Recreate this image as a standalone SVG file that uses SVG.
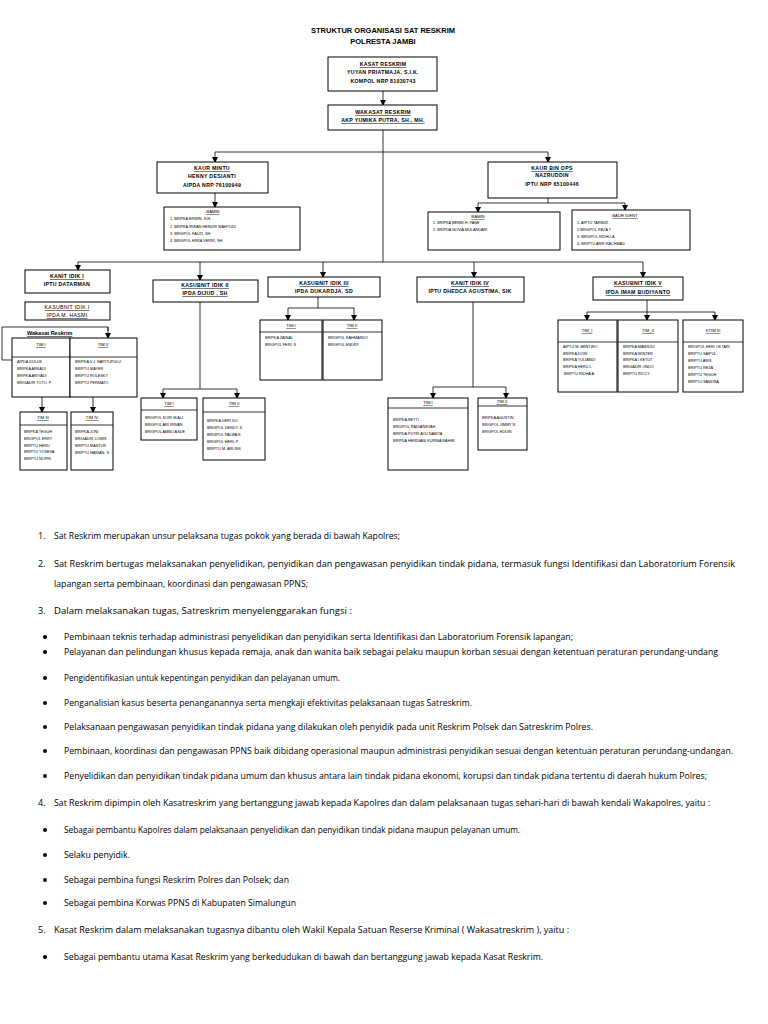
<svg xmlns="http://www.w3.org/2000/svg" width="768" height="1024" viewBox="0 0 768 1024">
<style>
.bx{fill:#fff;stroke:#000;stroke-width:1}
.ln{fill:none;stroke:#000;stroke-width:0.8}
.ar{fill:none;stroke:#000;stroke-width:0.8;marker-end:url(#a)}
.t{font-family:"Liberation Sans",Arial,sans-serif;font-weight:bold;font-size:7.5px;text-anchor:middle}
.h{font-family:"Liberation Sans",Arial,sans-serif;font-weight:bold;font-size:5.2px;text-anchor:middle;letter-spacing:0.3px}
.u{text-decoration:underline}
.s{font-family:"Liberation Sans",Arial,sans-serif;font-size:4.2px;text-anchor:middle;text-decoration:underline}
.m{font-family:"Liberation Sans",Arial,sans-serif;font-size:3.8px}
.b{font-family:"Open Sans","Liberation Sans",sans-serif;font-size:9px}
</style>
<defs>
<marker id="a" markerWidth="6" markerHeight="6" refX="5" refY="3" orient="auto" markerUnits="userSpaceOnUse">
<path d="M0,0 L6,3 L0,6 z" fill="#000"/>
</marker>
</defs>
<rect width="768" height="1024" fill="#fff"/>
<text class="t" x="383" y="33">STRUKTUR ORGANISASI SAT RESKRIM</text>
<text class="t" x="383" y="44">POLRESTA JAMBI</text>

<g id="connectors">
<line class="ar" x1="383" y1="91" x2="383" y2="105"/>
<line class="ln" x1="383" y1="130" x2="383" y2="262"/>
<line class="ln" x1="215" y1="152" x2="548" y2="152"/>
<line class="ar" x1="215" y1="152" x2="215" y2="162"/>
<line class="ar" x1="548" y1="152" x2="548" y2="162"/>
<line class="ar" x1="215" y1="193" x2="215" y2="207"/>
<line class="ln" x1="548" y1="198" x2="548" y2="203"/>
<line class="ln" x1="478" y1="203" x2="625" y2="203"/>
<line class="ar" x1="478" y1="203" x2="478" y2="212"/>
<line class="ar" x1="625" y1="203" x2="625" y2="210"/>
<line class="ln" x1="78" y1="262" x2="643" y2="262"/>
<line class="ar" x1="78" y1="262" x2="78" y2="270"/>
<line class="ar" x1="200" y1="262" x2="200" y2="280"/>
<line class="ar" x1="323" y1="262" x2="323" y2="277"/>
<line class="ar" x1="474" y1="262" x2="474" y2="277"/>
<line class="ar" x1="643" y1="262" x2="643" y2="277"/>
<polyline class="ln" points="12,360 2,360 2,327 108,327 108,331"/>
<line class="ar" x1="108" y1="327" x2="108" y2="338"/>
<line class="ar" x1="42" y1="397" x2="42" y2="412"/>
<line class="ar" x1="93" y1="397" x2="93" y2="412"/>
<line class="ln" x1="200" y1="302" x2="200" y2="389"/>
<line class="ln" x1="163" y1="389" x2="237" y2="389"/>
<line class="ar" x1="163" y1="389" x2="163" y2="398"/>
<line class="ar" x1="237" y1="389" x2="237" y2="398"/>
<line class="ln" x1="318" y1="297" x2="318" y2="308"/>
<line class="ln" x1="288" y1="308" x2="354" y2="308"/>
<line class="ar" x1="288" y1="308" x2="288" y2="320"/>
<line class="ar" x1="354" y1="308" x2="354" y2="320"/>
<line class="ln" x1="473" y1="302" x2="473" y2="387"/>
<line class="ln" x1="433" y1="387" x2="506" y2="387"/>
<line class="ar" x1="433" y1="387" x2="433" y2="398"/>
<line class="ar" x1="506" y1="387" x2="506" y2="398"/>
<line class="ln" x1="647" y1="300" x2="647" y2="312"/>
<line class="ln" x1="587" y1="312" x2="715" y2="312"/>
<line class="ar" x1="587" y1="312" x2="587" y2="320"/>
<line class="ar" x1="647" y1="312" x2="647" y2="320"/>
<line class="ar" x1="715" y1="312" x2="715" y2="320"/>
</g>

<g id="kasat">
<rect class="bx" x="328" y="57" width="109" height="34"/>
<text class="h u" x="383" y="66">KASAT RESKRIM</text>
<text class="h" x="383" y="74">YUYAN PRIATMAJA, S.I.K.</text>
<text class="h" x="383" y="83">KOMPOL NRP 81030743</text>
</g>
<g id="wakasat">
<rect class="bx" x="328" y="105" width="109" height="25"/>
<text class="h u" x="383" y="114">WAKASAT RESKRIM</text>
<text class="h u" x="383" y="122">AKP YUMIKA PUTRA, SH., MH.</text>
</g>
<g id="kaur-mintu">
<rect class="bx" x="157" y="162" width="111" height="31"/>
<text class="h u" x="212" y="170">KAUR MINTU</text>
<text class="h" x="212" y="178">HENNY DESIANTI</text>
<text class="h" x="212" y="187">AIPDA NRP 76100949</text>
</g>
<g id="bamin-1">
<rect class="bx" x="164" y="207" width="136" height="43"/>
<text class="s" x="213" y="213">BAMIN</text>
<text class="m" x="170" y="220">1. BRIPKA ERWIN, S.H.</text>
<text class="m" x="170" y="228">2. BRIPKA IRWAN HENDRI WAHYUDI</text>
<text class="m" x="170" y="235">3. BRIGPOL FAUZI, SH</text>
<text class="m" x="170" y="242">4. BRIGPOL ERKA VERRI, SH</text>
</g>
<g id="kaur-binops">
<rect class="bx" x="488" y="162" width="129" height="36"/>
<text class="h u" x="552" y="170">KAUR BIN OPS</text>
<text class="h" x="552" y="177">NAZRUDDIN</text>
<text class="h" x="552" y="186">IPTU NRP 65100446</text>
</g>
<g id="bamin-2">
<rect class="bx" x="428" y="212" width="132" height="38"/>
<text class="s" x="478" y="218">BAMIN</text>
<text class="m" x="433" y="224">1. BRIPKA BENNI H. PANE</text>
<text class="m" x="433" y="231">2. BRIPDA NOVIA MULANDARI</text>
</g>
<g id="baur-ident">
<rect class="bx" x="572" y="210" width="118" height="40"/>
<text class="s" x="625" y="217">BAUR IDENT</text>
<text class="m" x="577" y="224">1. AIPTU TARMIZI</text>
<text class="m" x="577" y="231">2.BRIGPOL REZA T</text>
<text class="m" x="577" y="238">3. BRIGPOL RIDHO A</text>
<text class="m" x="577" y="245">4. BRIPTU ARIF RACHMAD</text>
</g>

<g id="kanit-1">
<rect class="bx" x="25" y="270" width="85" height="23"/>
<text class="h u" x="67" y="278">KANIT IDIK I</text>
<text class="h" x="67" y="286">IPTU DATARMAN</text>
</g>
<g id="kasubnit-1">
<rect class="bx" x="25" y="302" width="85" height="18"/>
<text class="h u" x="67" y="309" style="font-weight:normal">KASUBNIT IDIK I</text>
<text class="h u" x="67" y="317" style="font-weight:normal">IPDA M. HASMI</text>
</g>
<text x="27" y="335" font-family="Liberation Sans, Arial, sans-serif" font-size="5.5" font-weight="bold" text-decoration="underline">Wakasat Reskrim</text>
<g id="tim1-1">
<rect class="bx" x="12" y="338" width="58" height="59"/>
<line class="ln" x1="12" y1="357" x2="70" y2="357"/>
<text class="s" x="41" y="346">TIM I</text>
<text class="m" x="17" y="363">AIPDA DULUK</text>
<text class="m" x="17" y="370">BRIPKA ARKADI</text>
<text class="m" x="17" y="377">BRIPKA ARIYADI</text>
<text class="m" x="17" y="384">BRIGADIR TOTO. P</text>
</g>
<g id="tim2-1">
<rect class="bx" x="70" y="338" width="67" height="59"/>
<line class="ln" x1="70" y1="357" x2="137" y2="357"/>
<text class="s" x="103" y="346">TIM II</text>
<text class="m" x="75" y="363">BRIPKA V.J. NAPITUPULU</text>
<text class="m" x="75" y="370">BRIPTU MAYER</text>
<text class="m" x="75" y="377">BRIPTU ROLESKY</text>
<text class="m" x="75" y="384">BRIPTU PERMATO</text>
</g>
<g id="tim3-1">
<rect class="bx" x="20" y="412" width="47" height="58"/>
<line class="ln" x1="20" y1="425" x2="67" y2="425"/>
<text class="s" x="43" y="419">TIM III</text>
<text class="m" x="24" y="433">BRIPKA TEGUH</text>
<text class="m" x="24" y="440">BRIGPOL ERRY</text>
<text class="m" x="24" y="447">BRIPTU HERU</text>
<text class="m" x="24" y="453" font-size="3.2">BRIPTU YOSEVA</text>
<text class="m" x="24" y="460">BRIPTU NOPRI</text>
</g>
<g id="tim4-1">
<rect class="bx" x="71" y="412" width="42" height="58"/>
<line class="ln" x1="71" y1="425" x2="113" y2="425"/>
<text class="s" x="92" y="419">TIM IV</text>
<text class="m" x="75" y="433">BRIPKA JONI</text>
<text class="m" x="75" y="440">BRIGADIR LOWIS</text>
<text class="m" x="75" y="447">BRIPTU MASTUR</text>
<text class="m" x="75" y="454">BRIPTU HARIAN. S</text>
</g>

<g id="kasubnit-2">
<rect class="bx" x="153" y="280" width="105" height="22"/>
<text class="h u" x="205" y="287">KASUBNIT IDIK II</text>
<text class="h u" x="205" y="295">IPDA DIJUD , SH</text>
</g>
<g id="tim1-2">
<rect class="bx" x="141" y="398" width="56" height="42"/>
<line class="ln" x1="141" y1="410" x2="197" y2="410"/>
<text class="s" x="169" y="405">TIM I</text>
<text class="m" x="145" y="419">BRIGPOL KORI M.ALI</text>
<text class="m" x="145" y="426">BRIGPOL ARI IRWAN</text>
<text class="m" x="145" y="433">BRIGPOL AMBO ASDE</text>
</g>
<g id="tim2-2">
<rect class="bx" x="203" y="398" width="62" height="62"/>
<line class="ln" x1="203" y1="412" x2="265" y2="412"/>
<text class="s" x="234" y="405">TIM II</text>
<text class="m" x="207" y="422">BRIPKA DERI DO</text>
<text class="m" x="207" y="429">BRIGPOL DENDY. K</text>
<text class="m" x="207" y="436">BRIGPOL PALWA K</text>
<text class="m" x="207" y="443">BRIGPOL HERL P</text>
<text class="m" x="207" y="450">BRIPTU M. ARLINS</text>
</g>

<g id="kasubnit-3">
<rect class="bx" x="268" y="277" width="112" height="20"/>
<text class="h u" x="324" y="285">KASUBNIT IDIK III</text>
<text class="h" x="324" y="293">IPDA DUKARDJA, SD</text>
</g>
<g id="tim1-3">
<rect class="bx" x="260" y="320" width="62" height="60"/>
<line class="ln" x1="260" y1="332" x2="322" y2="332"/>
<text class="s" x="291" y="327">TIM I</text>
<text class="m" x="265" y="339">BRIPKA ZAINAL</text>
<text class="m" x="265" y="346">BRIGPOL FERI. S</text>
</g>
<g id="tim2-3">
<rect class="bx" x="323" y="320" width="59" height="60"/>
<line class="ln" x1="323" y1="332" x2="382" y2="332"/>
<text class="s" x="352" y="327">TIM II</text>
<text class="m" x="328" y="339">BRIGPOL RAHMANDO</text>
<text class="m" x="328" y="346">BRIGPOL ENDRY</text>
</g>

<g id="kanit-4">
<rect class="bx" x="417" y="277" width="107" height="25"/>
<text class="h u" x="470" y="285">KANIT IDIK IV</text>
<text class="h" x="470" y="293">IPTU DHEDCA AGUSTIMA, SIK</text>
</g>
<g id="tim1-4">
<rect class="bx" x="388" y="398" width="80" height="72"/>
<line class="ln" x1="388" y1="408" x2="468" y2="408"/>
<text class="s" x="428" y="404">TIM I</text>
<text class="m" x="393" y="421">BRIPKA NETTI</text>
<text class="m" x="393" y="428">BRIGPOL RADIANSYAH</text>
<text class="m" x="393" y="435">BRIPDA PUTRI AYU NABITA</text>
<text class="m" x="393" y="442">BRIPDA HERDIANI KURNIA RAHMI</text>
</g>
<g id="tim2-4">
<rect class="bx" x="478" y="398" width="49" height="52"/>
<line class="ln" x1="478" y1="406" x2="527" y2="406"/>
<text class="s" x="502" y="403">TIM II</text>
<text class="m" x="482" y="419">BRIPKA AGUSTIN</text>
<text class="m" x="482" y="426">BRIGPOL JIMMY N</text>
<text class="m" x="482" y="433">BRIGPOL EDDIN</text>
</g>

<g id="kanit-5">
<rect class="bx" x="593" y="277" width="90" height="23"/>
<text class="h u" x="638" y="285">KASUBNIT IDIK V</text>
<text class="h u" x="638" y="294">IPDA IMAM BUDIYANTO</text>
</g>
<g id="tim1-5">
<rect class="bx" x="558" y="320" width="59" height="72"/>
<line class="ln" x1="558" y1="342" x2="617" y2="342"/>
<text class="s" x="587" y="332">TIM_I</text>
<text class="m" x="563" y="348">AIPTU M. BENTINO</text>
<text class="m" x="563" y="355">BRIPKA DONI</text>
<text class="m" x="563" y="361">BRIPKA YULIANDI</text>
<text class="m" x="563" y="368">BRIPKA HERU L</text>
<text class="m" x="564" y="375">BRIPTU RIDHA A</text>
</g>
<g id="tim2-5">
<rect class="bx" x="618" y="320" width="60" height="72"/>
<line class="ln" x1="618" y1="342" x2="678" y2="342"/>
<text class="s" x="648" y="332">TIM_II</text>
<text class="m" x="623" y="348">BRIPKA MAWIDDI</text>
<text class="m" x="623" y="355">BRIPKA WINTER</text>
<text class="m" x="623" y="361">BRIPKA I KETUT</text>
<text class="m" x="623" y="368">BRIGADIR ONDO</text>
<text class="m" x="623" y="375">BRIPTU RICCY</text>
</g>
<g id="tim3-5">
<rect class="bx" x="683" y="320" width="60" height="72"/>
<line class="ln" x1="683" y1="342" x2="743" y2="342"/>
<text class="s" x="713" y="332">KTIM III</text>
<text class="m" x="688" y="348">BRIGPOL HERI OKTARI</text>
<text class="m" x="688" y="355">BRIPTU SAIPUL</text>
<text class="m" x="688" y="362">BRIPTU ARIS</text>
<text class="m" x="688" y="369">BRIPTU REZA</text>
<text class="m" x="688" y="376">BRIPTU TEGUH</text>
<text class="m" x="688" y="383">BRIPTU SANDRA</text>
</g>

<g id="text">
<text class="b" x="38" y="539">1.</text>
<text class="b" x="54" y="539" textLength="346" lengthAdjust="spacingAndGlyphs">Sat Reskrim merupakan unsur pelaksana tugas pokok yang berada di bawah Kapolres;</text>
<text class="b" x="38" y="567">2.</text>
<text class="b" x="54" y="567" textLength="681" lengthAdjust="spacingAndGlyphs">Sat Reskrim bertugas melaksanakan penyelidikan, penyidikan dan pengawasan penyidikan tindak pidana, termasuk fungsi Identifikasi dan Laboratorium Forensik</text>
<text class="b" x="54" y="587" textLength="254" lengthAdjust="spacingAndGlyphs">lapangan serta pembinaan, koordinasi dan pengawasan PPNS;</text>
<text class="b" x="38" y="614">3.</text>
<text class="b" x="54" y="614" textLength="298" lengthAdjust="spacingAndGlyphs">Dalam melaksanakan tugas, Satreskrim menyelenggarakan fungsi :</text>
<circle cx="45" cy="637" r="2"/>
<text class="b" x="64" y="640" textLength="509" lengthAdjust="spacingAndGlyphs">Pembinaan teknis terhadap administrasi penyelidikan dan penyidikan serta Identifikasi dan Laboratorium Forensik lapangan;</text>
<circle cx="45" cy="652" r="2"/>
<text class="b" x="64" y="655" textLength="654" lengthAdjust="spacingAndGlyphs">Pelayanan dan pelindungan khusus kepada remaja, anak dan wanita baik sebagai pelaku maupun korban sesuai dengan ketentuan peraturan perundang-undang</text>
<circle cx="45" cy="678" r="2"/>
<text class="b" x="64" y="681" textLength="276" lengthAdjust="spacingAndGlyphs">Pengidentifikasian untuk kepentingan penyidikan dan pelayanan umum.</text>
<circle cx="45" cy="703" r="2"/>
<text class="b" x="64" y="706" textLength="408" lengthAdjust="spacingAndGlyphs">Penganalisian kasus beserta penanganannya serta mengkaji efektivitas pelaksanaan tugas Satreskrim.</text>
<circle cx="45" cy="727" r="2"/>
<text class="b" x="64" y="730" textLength="529" lengthAdjust="spacingAndGlyphs">Pelaksanaan pengawasan penyidikan tindak pidana yang dilakukan oleh penyidik pada unit Reskrim Polsek dan Satreskrim Polres.</text>
<circle cx="45" cy="751" r="2"/>
<text class="b" x="64" y="754" textLength="669" lengthAdjust="spacingAndGlyphs">Pembinaan, koordinasi dan pengawasan PPNS baik dibidang operasional maupun administrasi penyidikan sesuai dengan ketentuan peraturan perundang-undangan.</text>
<circle cx="45" cy="776" r="2"/>
<text class="b" x="64" y="779" textLength="643" lengthAdjust="spacingAndGlyphs">Penyelidikan dan penyidikan tindak pidana umum dan khusus antara lain tindak pidana ekonomi, korupsi dan tindak pidana tertentu di daerah hukum Polres;</text>
<text class="b" x="38" y="806">4.</text>
<text class="b" x="54" y="806" textLength="656" lengthAdjust="spacingAndGlyphs">Sat Reskrim dipimpin oleh Kasatreskrim yang bertanggung jawab kepada Kapolres dan dalam pelaksanaan tugas sehari-hari di bawah kendali Wakapolres, yaitu :</text>
<circle cx="45" cy="830" r="2"/>
<text class="b" x="64" y="833" textLength="456" lengthAdjust="spacingAndGlyphs">Sebagai pembantu Kapolres dalam pelaksanaan penyelidikan dan penyidikan tindak pidana maupun pelayanan umum.</text>
<circle cx="45" cy="855" r="2"/>
<text class="b" x="64" y="858" textLength="66" lengthAdjust="spacingAndGlyphs">Selaku penyidik.</text>
<circle cx="45" cy="880" r="2"/>
<text class="b" x="64" y="883" textLength="225" lengthAdjust="spacingAndGlyphs">Sebagai pembina fungsi Reskrim Polres dan Polsek; dan</text>
<circle cx="45" cy="903" r="2"/>
<text class="b" x="64" y="906" textLength="232" lengthAdjust="spacingAndGlyphs">Sebagai pembina Korwas PPNS di Kabupaten Simalungun</text>
<text class="b" x="38" y="933">5.</text>
<text class="b" x="54" y="933" textLength="515" lengthAdjust="spacingAndGlyphs">Kasat Reskrim dalam melaksanakan tugasnya dibantu oleh Wakil Kepala Satuan Reserse Kriminal ( Wakasatreskrim ), yaitu :</text>
<circle cx="45" cy="957" r="2"/>
<text class="b" x="64" y="960" textLength="479" lengthAdjust="spacingAndGlyphs">Sebagai pembantu utama Kasat Reskrim yang berkedudukan di bawah dan bertanggung jawab kepada Kasat Reskrim.</text>
</g>
</svg>
